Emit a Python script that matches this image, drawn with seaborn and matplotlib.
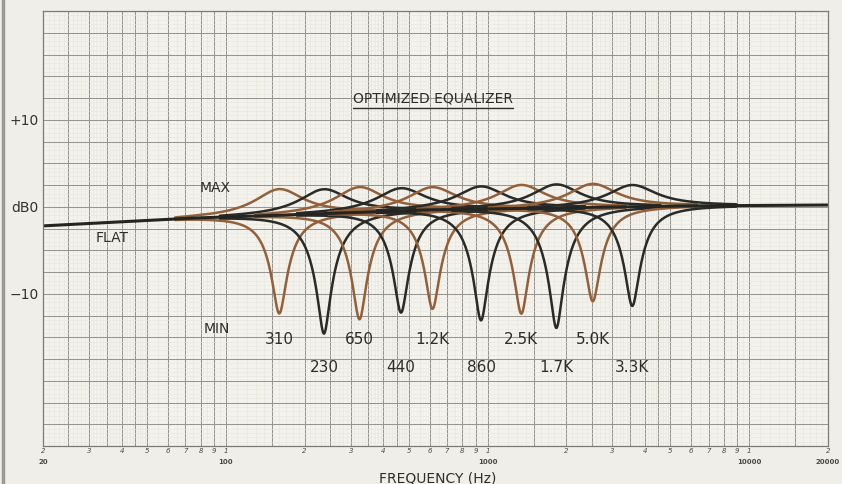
import numpy as np
import pandas as pd
import matplotlib
matplotlib.use("Agg")
import matplotlib.pyplot as plt
import matplotlib.ticker as mticker
import seaborn as sns

# ---------------- data ----------------
band_labels = ["310", "230", "650", "440", "1.2K", "860", "2.5K", "1.7K", "5.0K", "3.3K"]
band_center_hz = [160, 237, 324, 467, 616, 944, 1346, 1832, 2524, 3573]
band_tone = ["brown", "black", "brown", "black", "brown", "black", "brown", "black", "brown", "black"]
max_boost_db = [3.0, 2.8, 2.9, 2.6, 2.6, 2.6, 2.7, 2.7, 2.7, 2.5]
min_cut_db = [-11.3, -13.8, -12.3, -11.7, -11.4, -12.8, -12.1, -13.8, -10.8, -11.4]
boost_q = 1.9
cut_q = 5.4
curve_span = 2.5          # each curve drawn from fc/span to fc*span

flat_hz = [20, 75, 150, 600, 6000, 20000]
flat_db = [-2.2, -1.3, -1.0, -0.35, 0.1, 0.2]

# label rows (dB) for the band labels
upper_row_db = -15.3
lower_row_db = -18.5

tone_colors = {"brown": "#93603a", "black": "#2a2a27"}


def peaking_db(f, fc, gain, q):
    A = 10 ** (gain / 40.0)
    w = f / fc
    num = (1 - w ** 2) ** 2 + (w * A / q) ** 2
    den = (1 - w ** 2) ** 2 + (w / (A * q)) ** 2
    return 10 * np.log10(num / den)


rows = []
palette = {}
for lab, fc, tone, gmax, gmin in zip(band_labels, band_center_hz, band_tone, max_boost_db, min_cut_db):
    f = np.geomspace(fc / curve_span, fc * curve_span, 400)
    base = np.interp(np.log10(f), np.log10(flat_hz), flat_db)
    for kind, g, q in (("max", gmax, boost_q), ("min", gmin, cut_q)):
        key = f"{lab} {kind}"
        palette[key] = tone_colors[tone]
        db = base + peaking_db(f, fc, g, q)
        rows.append(pd.DataFrame({"freq": f, "db": db, "curve": key}))
df = pd.concat(rows, ignore_index=True)
flat_df = pd.DataFrame({"freq": flat_hz, "db": flat_db})

# ---------------- figure ----------------
sns.set_theme(style="white")
plt.rcParams["font.family"] = ["DejaVu Sans"]

fig = plt.figure(figsize=(8.42, 4.84), dpi=100, facecolor="#efeee9")
ax = fig.add_axes([43 / 842, 1 - 446 / 484, (828 - 43) / 842, (446 - 11) / 484])
ax.set_facecolor("#f3f2ec")

ax.set_xscale("log")
ax.set_xlim(20, 20000)
ax.set_ylim(-27.5, 22.5)

# grid positions (graph paper)
dark_mult = [1, 1.5, 2, 2.5, 3, 3.5, 4, 4.5, 5, 6, 7, 8, 9]
faint_mult = [m / 10 for m in range(11, 50) if m % 5 != 0] + [5.5, 6.5, 7.5, 8.5, 9.5]
dark_pos, dark_lab = [], []
for dec in [10, 100, 1000, 10000]:
    for m in dark_mult:
        v = m * dec
        if 20 <= v <= 20000:
            dark_pos.append(v)
            if float(m).is_integer():
                dark_lab.append(str(int(m)))
            else:
                dark_lab.append("")
faint_pos = [m * dec for dec in [10, 100, 1000, 10000] for m in faint_mult if 20 <= m * dec <= 20000]

ax.xaxis.set_major_locator(mticker.FixedLocator(dark_pos))
ax.xaxis.set_major_formatter(mticker.FixedFormatter(dark_lab))
ax.xaxis.set_minor_locator(mticker.FixedLocator(faint_pos))
ax.xaxis.set_minor_formatter(mticker.NullFormatter())

ymaj = np.arange(-27.5, 22.51, 2.5)
ylab = {10.0: "+10", 0.0: "dB0", -10.0: "\u221210"}
ax.yaxis.set_major_locator(mticker.FixedLocator(ymaj))
ax.yaxis.set_major_formatter(mticker.FixedFormatter([ylab.get(round(v, 1), "") for v in ymaj]))
ax.yaxis.set_minor_locator(mticker.MultipleLocator(0.5))

ax.grid(which="major", color="#979590", lw=0.75)
ax.grid(which="minor", color="#e6e4dd", lw=0.4)
ax.set_axisbelow(True)
ax.tick_params(which="both", length=0)
ax.tick_params(axis="x", pad=1.5, labelsize=5, colors="#4a4a46")
ax.tick_params(axis="y", pad=3, labelsize=10, colors="#333330")
for lbl in ax.get_xticklabels():
    lbl.set_fontstyle("italic")
for s in ax.spines.values():
    s.set_color("#7d7b75")
    s.set_linewidth(0.9)

# curves
sns.lineplot(data=df, x="freq", y="db", hue="curve", palette=palette, estimator=None,
             sort=False, lw=1.8, legend=False, ax=ax)
sns.lineplot(data=flat_df, x="freq", y="db", color="#242421", lw=2.2, ax=ax)

ax.set_xlabel("")
ax.set_ylabel("")

# decade numbers under the small digits
for v in [20, 100, 1000, 10000, 20000]:
    ax.text(v, -0.03, str(v), transform=ax.get_xaxis_transform(), ha="center", va="top",
            fontsize=5, fontweight="bold", color="#4a4a46")

# band labels
for lab, fc, tone in zip(band_labels, band_center_hz, band_tone):
    y = upper_row_db if tone == "brown" else lower_row_db
    ax.text(fc, y, lab, ha="center", va="center", fontsize=11, color="#2e2e2b")

ax.text(91, 2.1, "MAX", ha="center", va="center", fontsize=10, color="#2e2e2b")
ax.text(92, -14.0, "MIN", ha="center", va="center", fontsize=10, color="#2e2e2b")
ax.text(36.7, -3.6, "FLAT", ha="center", va="center", fontsize=10, color="#2e2e2b")
title = ax.text(616, 12.5, "OPTIMIZED EQUALIZER", ha="center", va="center",
                fontsize=10, color="#2e2e2b")

fig.text(438 / 842, 1 - 478 / 484, "FREQUENCY (Hz)", ha="center", va="center",
         fontsize=10, color="#2e2e2b")

# underline the title
fig.canvas.draw()
bb = title.get_window_extent().transformed(ax.transData.inverted())
ax.plot([bb.x0, bb.x1], [bb.y0 - 0.35, bb.y0 - 0.35], color="#2e2e2b", lw=1.0)

# scan edge on the left
fig.add_artist(plt.Line2D([0.003, 0.003], [0, 1], transform=fig.transFigure,
                          color="#9a9a95", lw=2.5))

fig.savefig("out.png", dpi=100, facecolor=fig.get_facecolor())
